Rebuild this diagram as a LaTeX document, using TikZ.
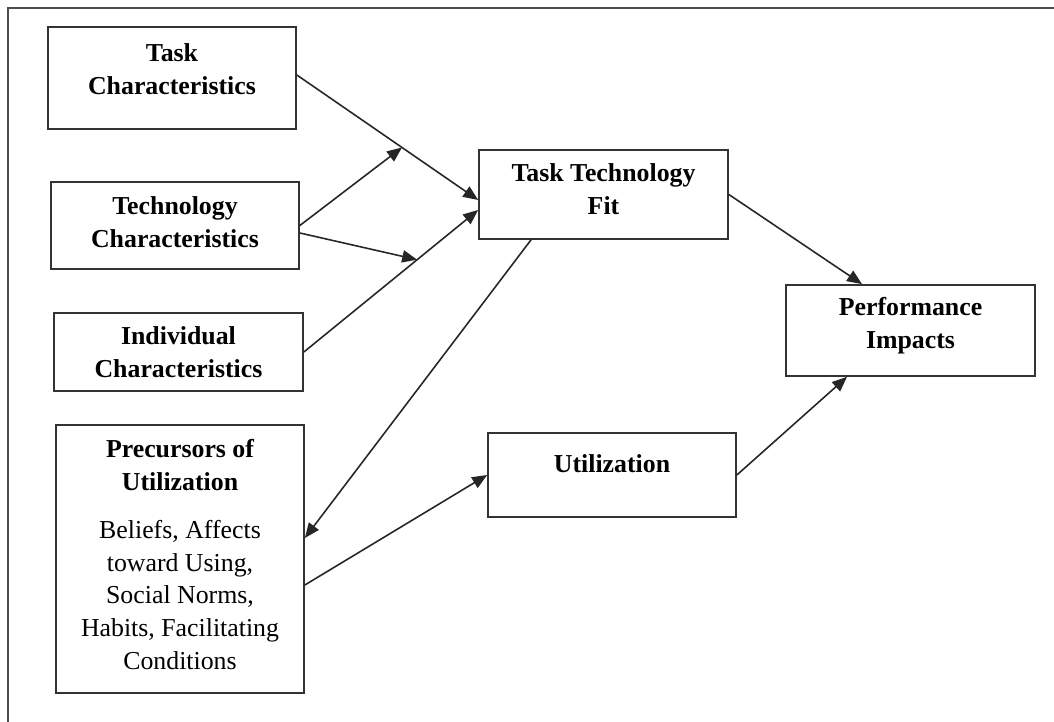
\documentclass[tikz,border=0pt]{standalone}
\usepackage{fontspec}
\setmainfont{Liberation Serif}
\usetikzlibrary{arrows.meta,positioning}

\begin{document}
\begin{tikzpicture}
		[x=0.02cm,y=-0.02cm,
		box/.style={draw=black!80,line width=1pt,minimum width=4.96cm,inner sep=0pt},
		title/.style={align=center,font=\fontsize{14.7}{18.7}\selectfont\bfseries},
		desc/.style={align=center,font=\fontsize{14.7}{18.7}\selectfont},
		arr/.style={draw=black!85,line width=0.9pt,-{Triangle[length=8.5pt,width=7pt]}}]
		\useasboundingbox (0,0) rectangle (1054,722);
		\draw[black!70,line width=1.3pt] (8,722) -- (8,8) -- (1054,8);
		
		\node[box,minimum height=2.04cm] (tc) at (172,78) {};
		\node[box,minimum height=1.74cm] (tec) at (175,225.5) {};
		\node[box,minimum height=1.56cm,minimum width=4.98cm] (ic) at (178.5,352) {};
		\node[box,minimum height=5.36cm] (pu) at (180,559) {};
		\node[box,minimum height=1.78cm,minimum width=4.98cm] (ttf) at (603.5,194.5) {};
		\node[box,minimum height=1.82cm,minimum width=4.98cm] (pi) at (910.5,330.5) {};
		\node[box,minimum height=1.68cm] (ut) at (612,475) {};
		
		\node[title] (tc-t) at (172,69) {Task\\Characteristics};
		\node[title] (tec-t) at (175,222) {Technology\\Characteristics};
		\node[title] (ic-t) at (178.5,352) {Individual\\Characteristics};
		\node[title] (pu-t) at (180,465) {Precursors of\\Utilization};
		\node[desc] (pu-d) at (180,595) {Beliefs, Affects\\toward Using,\\Social Norms,\\Habits, Facilitating\\Conditions};
		\node[title] (ttf-t) at (603.5,189) {Task Technology\\Fit};
		\node[title] (pi-t) at (910.5,326) {Performance\\Impacts};
		\node[title] (ut-t) at (612,464) {Utilization};
		
		\draw[arr] ([yshift=0.06cm]tc.east) -- coordinate[pos=0.58] (j1) ([yshift=-0.11cm]ttf.west);
		\draw[arr] (ic.east) -- coordinate[pos=0.65] (j2) ([yshift=-0.31cm]ttf.west);
		\draw[arr] (tec.east) -- (j1);
		\draw[arr] ([yshift=-0.15cm]tec.east) -- (j2);
		\draw[arr] ([xshift=-1.45cm]ttf.south) -- ([yshift=0.42cm]pu.east);
		\draw[arr] ([yshift=-0.52cm]pu.east) -- (ut.west);
		\draw[arr] (ttf.east) -- ([xshift=-0.97cm]pi.north);
		\draw[arr] (ut.east) -- ([xshift=-1.27cm]pi.south);
		\end{tikzpicture}
\end{document}
